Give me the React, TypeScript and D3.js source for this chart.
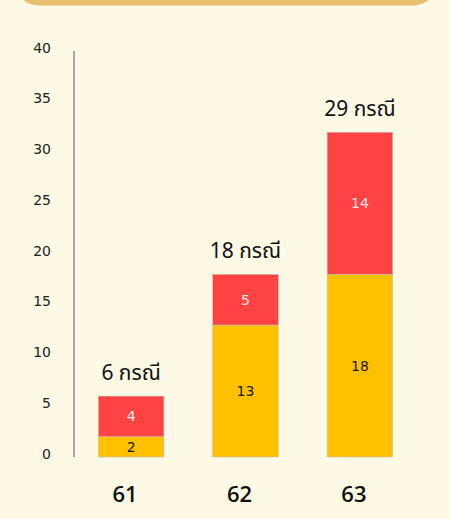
import React from "react";
import * as d3 from "d3";

const categories = ["61", "62", "63"];
const lowerValues = [2, 13, 18];
const upperValues = [4, 5, 14];
const totalLabels = ["6 กรณี", "18 กรณี", "29 กรณี"];
const yTicks = [0, 5, 10, 15, 20, 25, 30, 35, 40];

const W = 449;
const H = 519;

export default function App() {
  const x = d3
    .scaleBand<string>()
    .domain(categories)
    .range([74, 417])
    .paddingInner(0.427)
    .paddingOuter(0.2125);
  const y = d3.scaleLinear().domain([0, 40]).range([457, 51]);

  const rows = categories.map((c, i) => ({
    cat: c,
    lower: lowerValues[i],
    upper: upperValues[i],
    total: totalLabels[i],
  }));
  const stack = d3.stack<any>().keys(["lower", "upper"])(rows as any);
  const fills = ["#ffc000", "#ff4343"];
  const textFills = ["#1a1a1a", "#ffe8e8"];
  const bw = x.bandwidth();

  return (
    <svg
      width={W}
      height={H}
      style={{ position: "absolute", left: 0, top: 0, display: "block" }}
    >
      <rect x={0} y={0} width={W} height={H} fill="#fdf9e5" />
      <rect x={15} y={-40} width={422} height={45.5} rx={24} fill="#e8be70" />
      <line x1={74} x2={74} y1={y(40)} y2={y(0)} stroke="#a6a6a6" strokeWidth={2} />
      {yTicks.map((t) => (
        <text
          key={t}
          x={51}
          y={y(t) - 3.5}
          textAnchor="end"
          dominantBaseline="central"
          fontFamily="DejaVu Sans, Verdana, sans-serif"
          fontSize={14}
          fill="#222"
        >
          {t}
        </text>
      ))}
      {stack.map((layer, li) =>
        layer.map((d, i) => {
          const cat = categories[i];
          const y0 = y(d[0]);
          const y1 = y(d[1]);
          return (
            <g key={`${li}-${i}`}>
              <rect
                x={x(cat)}
                y={y1}
                width={bw}
                height={y0 - y1}
                fill={fills[li]}
                stroke="#c8c0b0"
                strokeWidth={0.6}
              />
              <text
                x={(x(cat) as number) + bw / 2}
                y={(y0 + y1) / 2}
                textAnchor="middle"
                dominantBaseline="central"
                fontFamily="DejaVu Sans, Verdana, sans-serif"
                fontSize={14}
                fill={textFills[li]}
              >
                {(d[1] - d[0]).toString()}
              </text>
            </g>
          );
        })
      )}
      {rows.map((r) => (
        <text
          key={r.cat}
          x={(x(r.cat) as number) + bw / 2}
          y={y(r.lower + r.upper) - 16}
          textAnchor="middle"
          fontFamily="Noto Sans, Noto Sans Thai, sans-serif"
          fontSize={21}
          fill="#111"
        >
          {r.total}
        </text>
      ))}
      {categories.map((c) => (
        <text
          key={c}
          x={(x(c) as number) + bw / 2 - 6}
          y={493}
          textAnchor="middle"
          dominantBaseline="central"
          fontFamily="Open Sans, Noto Sans, sans-serif"
          fontSize={22}
          fontWeight={600}
          fill="#111"
        >
          {c}
        </text>
      ))}
    </svg>
  );
}
